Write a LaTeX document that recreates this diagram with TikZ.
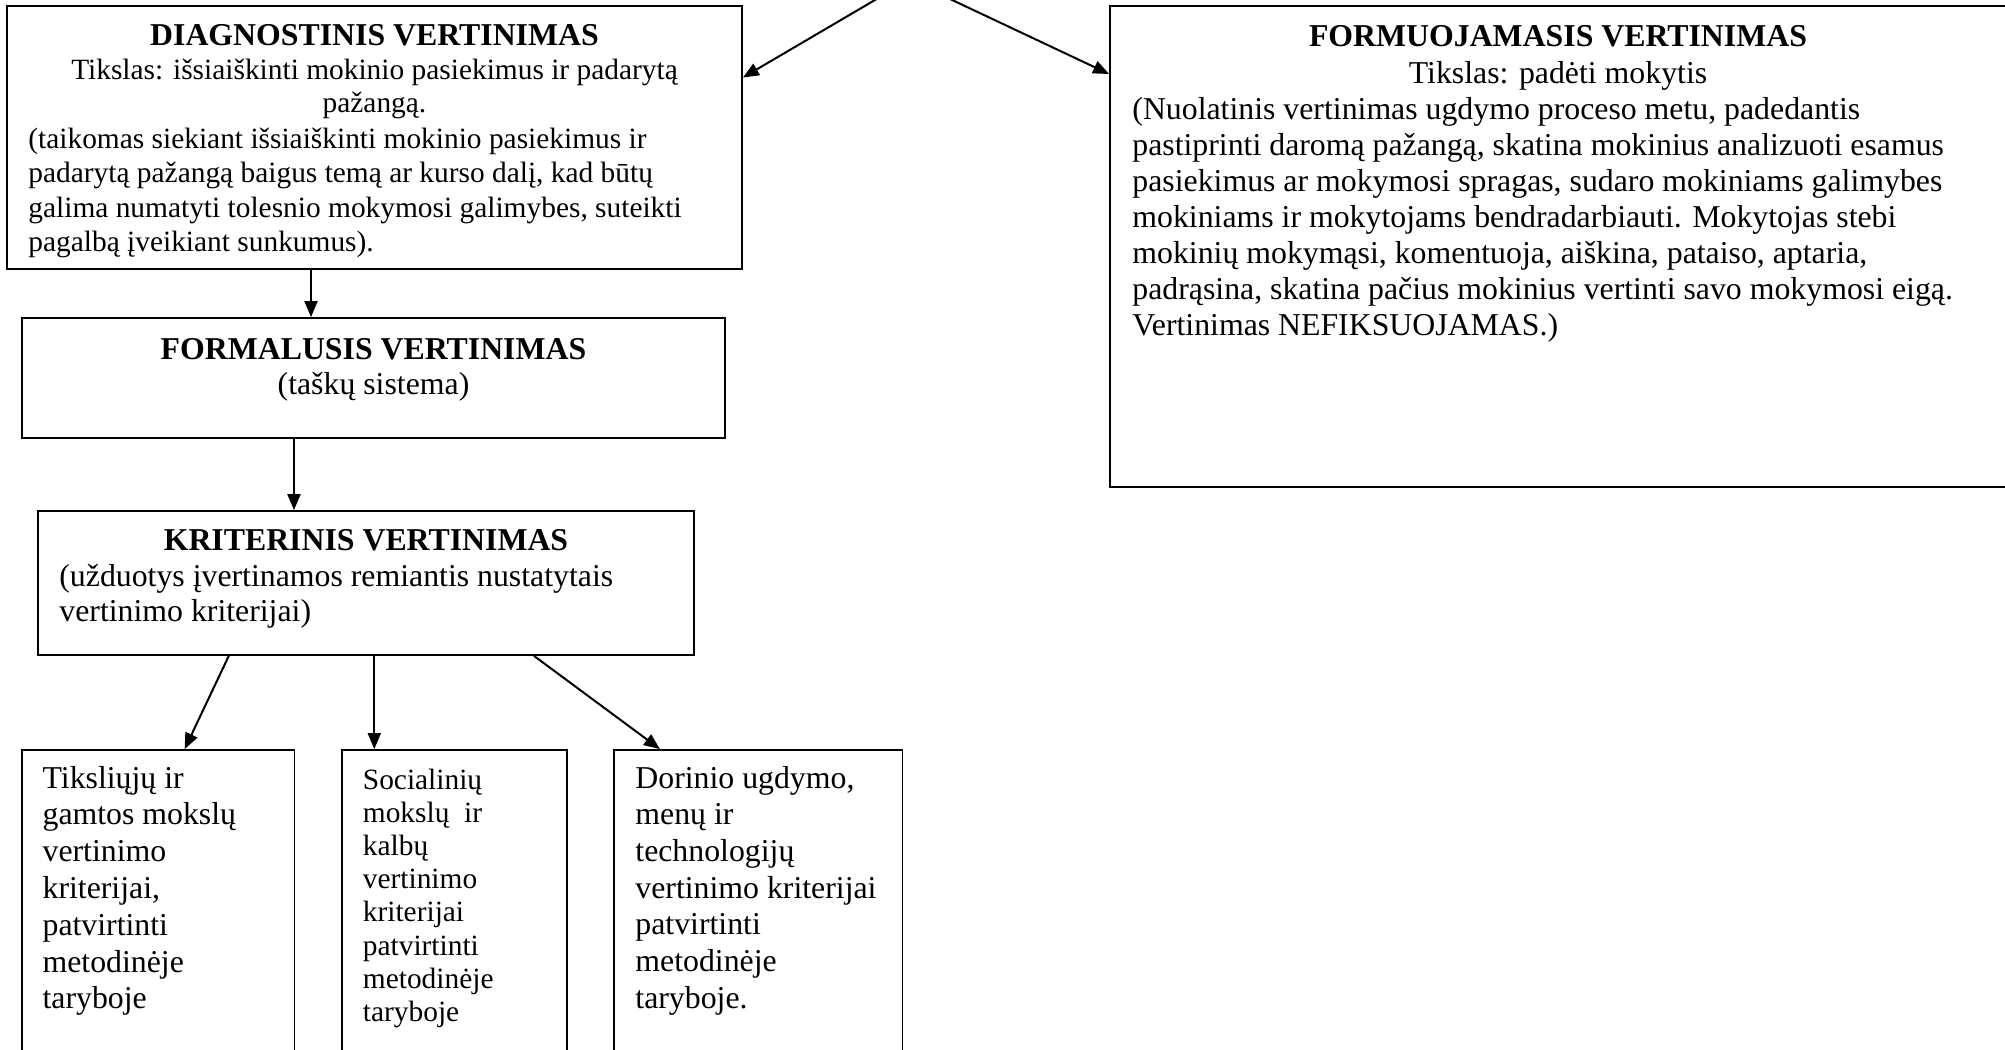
\documentclass[tikz,border=0pt]{standalone}
\usepackage{fontspec}
\setmainfont{Liberation Serif}
\usetikzlibrary{arrows.meta,fit}
\tikzset{
  box/.style={draw, line width=0.9pt, inner sep=0pt},
  ttl/.style={font=\fontsize{15.9}{18}\selectfont\bfseries, inner sep=0pt, anchor=base},
  big/.style={font=\fontsize{15.9}{18}\selectfont, inner sep=0pt},
  small/.style={font=\fontsize{14.7}{17}\selectfont, inner sep=0pt},
  arr/.style={line width=1pt, -{Triangle[length=8pt,width=6.5pt]}},
}
\begin{document}
\begin{tikzpicture}[x=0.5pt,y=-0.5pt]
\useasboundingbox (0,0) rectangle (2005,1049);
\clip (0,0) rectangle (2005,1049);

% boxes
\node[box, fit={(7,6) (742,269)}] (diag) {};
\node[box, fit={(1110,6) (2012,487)}] (formu) {};
\node[box, fit={(22,318) (725,438)}] (forma) {};
\node[box, fit={(38,511) (694,655)}] (krit) {};
\node[box, fit={(22,750) (294.5,1070)}] (b1) {};
\node[box, fit={(342,750) (567,1070)}] (b2) {};
\node[box, fit={(614.3,750) (902.4,1070)}] (b3) {};

% DIAGNOSTINIS
\node[ttl] (dt) at (374.5,45) {DIAGNOSTINIS VERTINIMAS};
\node[small, anchor=base] (dg1) at (374.5,79) {Tikslas: išsiaiškinti mokinio pasiekimus ir padarytą};
\node[small, anchor=base] (dg2) at (374.5,112) {pažangą.};
\foreach \t [count=\i from 0] in {
  {(taikomas siekiant išsiaiškinti mokinio pasiekimus ir},
  {padarytą pažangą baigus temą ar kurso dalį, kad būtų},
  {galima numatyti tolesnio mokymosi galimybes, suteikti},
  {pagalbą įveikiant sunkumus).}}
  \node[small, anchor=base west] (dl\i) at (28,148+34.6*\i) {\t};

% FORMUOJAMASIS
\node[ttl] (ft) at (1558,46) {FORMUOJAMASIS VERTINIMAS};
\node[big, anchor=base] (fg) at (1558,83) {Tikslas: padėti mokytis};
\foreach \t [count=\i from 0] in {
  {(Nuolatinis vertinimas ugdymo proceso metu, padedantis},
  {pastiprinti daromą pažangą, skatina mokinius analizuoti esamus},
  {pasiekimus ar mokymosi spragas, sudaro mokiniams galimybes},
  {mokiniams ir mokytojams bendradarbiauti. Mokytojas stebi},
  {mokinių mokymąsi, komentuoja, aiškina, pataiso, aptaria,},
  {padrąsina, skatina pačius mokinius vertinti savo mokymosi eigą.},
  {Vertinimas NEFIKSUOJAMAS.)}}
  \node[big, anchor=base west] (fl\i) at (1132,119+36*\i) {\t};

% FORMALUSIS
\node[ttl] (fat) at (373.5,359) {FORMALUSIS VERTINIMAS};
\node[big, anchor=base] (fa1) at (373.5,394) {(taškų sistema)};

% KRITERINIS
\node[ttl] (kt) at (366,550) {KRITERINIS VERTINIMAS};
\node[big, anchor=base west] (k1) at (59,586) {(užduotys įvertinamos remiantis nustatytais};
\node[big, anchor=base west] (k2) at (59,621) {vertinimo kriterijai)};

% bottom boxes
\foreach \t [count=\i from 0] in {
  {Tiksliųjų ir}, {gamtos mokslų}, {vertinimo}, {kriterijai,},
  {patvirtinti}, {metodinėje}, {taryboje}}
  \node[big, anchor=base west] (p\i) at (42.2,788+36.8*\i) {\t};
\foreach \t [count=\i from 0] in {
  {Socialinių}, {mokslų\ \ ir}, {kalbų}, {vertinimo}, {kriterijai},
  {patvirtinti}, {metodinėje}, {taryboje}}
  \node[small, anchor=base west] (q\i) at (362.5,789+33.2*\i) {\t};
\foreach \t [count=\i from 0] in {
  {Dorinio ugdymo,}, {menų ir}, {technologijų}, {vertinimo kriterijai},
  {patvirtinti}, {metodinėje}, {taryboje.}}
  \node[big, anchor=base west] (r\i) at (635,788+36.7*\i) {\t};

% connectors
\coordinate (topL) at (892,-10);
\coordinate (topR) at (930.9,-10);
\draw[arr] (topL) -- ([yshift=30pt]diag.east);
\draw[arr] (topR) -- ([yshift=86.25pt]formu.west);
\draw[arr] ([xshift=-31.75pt]diag.south) -- ([xshift=-31.75pt]diag.south |- forma.north);
\draw[arr] ([xshift=-39.75pt]forma.south) -- ([xshift=-39.75pt]forma.south |- krit.north);
\draw[arr] ([xshift=-68.6pt]krit.south) -- ([xshift=13.2pt]b1.north);
\draw[arr] ([xshift=4.15pt]krit.south) -- ([xshift=4.15pt]krit.south |- b2.north);
\draw[arr] ([xshift=84pt]krit.south) -- ([xshift=-49.2pt]b3.north);
\end{tikzpicture}
\end{document}
